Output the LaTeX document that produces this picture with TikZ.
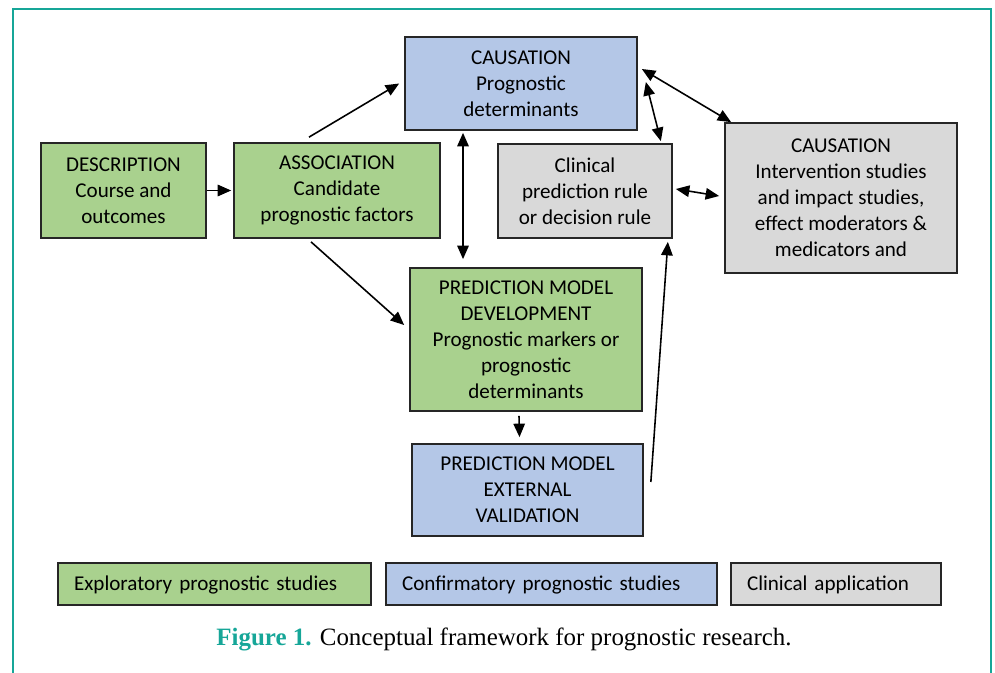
\documentclass[tikz,border=0pt]{standalone}
\usepackage{fontspec}
\setmainfont{Carlito}
\newfontfamily\capfont{Liberation Serif}
\usepackage{tikz}
\usetikzlibrary{arrows.meta}
\definecolor{exgreen}{RGB}{169,209,142}
\definecolor{cfblue}{RGB}{180,199,231}
\definecolor{clgray}{RGB}{217,217,217}
\definecolor{frameteal}{RGB}{22,166,152}
\tikzset{>={Triangle[length=0.27cm,width=0.23cm]}}

\begin{document}
\begin{tikzpicture}[x=0.02cm,y=-0.02cm]
    \tikzset{
    box/.style={draw=black!85, line width=1pt, align=center, inner sep=2pt, font=\fontsize{12}{14.8}\selectfont},
    explor/.style={box, fill=exgreen},
    confirm/.style={box, fill=cfblue},
    applic/.style={box, fill=clgray},
    key/.style={align=left, text width=#1, inner xsep=0.32cm, minimum height=0.84cm, text depth=0.02cm},
    link/.style={line width=0.9pt},
    }

    % Page and frame.
    \useasboundingbox (0,0) rectangle (995,673);
    \draw [frameteal, line width=0.8pt] (13,673) -- (13,9) -- (991,9) -- (991,673);

    % Study boxes.
    \node [confirm, minimum width=4.64cm, minimum height=1.86cm] (caus)   at (521,83.5)  {CAUSATION\\Prognostic\\determinants};
    \node [explor,  minimum width=3.30cm, minimum height=1.90cm] (desc)   at (123.5,190.5) {DESCRIPTION\\Course and\\outcomes};
    \node [explor,  minimum width=4.12cm, minimum height=1.90cm] (assoc)  at (337,190.5) {ASSOCIATION\\Candidate\\prognostic factors};
    \node [applic,  minimum width=3.48cm, minimum height=1.88cm] (rule)   at (585,191)   {Clinical\\prediction rule\\or decision rule};
    \node [applic,  minimum width=4.64cm, minimum height=3.00cm] (interv) at (841,198)   {CAUSATION\\Intervention studies\\and impact studies,\\effect moderators \&\\medicators and};
    \node [explor,  minimum width=4.64cm, minimum height=2.86cm] (dev)    at (526,339.5) {PREDICTION MODEL\\DEVELOPMENT\\Prognostic markers or\\prognostic\\determinants};
    \node [confirm, minimum width=4.62cm, minimum height=1.84cm] (valid)  at (527.5,490) {PREDICTION MODEL\\EXTERNAL\\VALIDATION};

    % Legend.
    \node [explor,  key=5.62cm] (keyex) at (214.5,584) {Exploratory prognostic studies};
    \node [confirm, key=5.98cm] (keycf) at (551.5,584) {Confirmatory prognostic studies};
    \node [applic,  key=3.56cm] (keycl) at (836,584)   {Clinical application};

    % Caption.
    \node [font=\capfont\fontsize{14.2}{17}\selectfont] (caption) at (504,639)
      {\textcolor{frameteal}{\textbf{Figure 1.}} Conceptual framework for prognostic research.};

    % Connections.
    \draw [link, ->] (desc.east) -- ([xshift=-0.04cm]assoc.west);
    \draw [link, ->] ([xshift=-0.56cm,yshift=0.1cm]assoc.north) -- ([xshift=-0.1cm]caus.west);
    \draw [link, ->] ([xshift=-0.52cm,yshift=-0.06cm]assoc.south) -- ([xshift=-0.1cm,yshift=0.29cm]dev.west);
    \draw [link, <->] ([xshift=-1.16cm,yshift=-0.04cm]caus.south) -- ([xshift=-1.26cm,yshift=0.16cm]dev.north);
    \draw [link, <->] ([xshift=0.16cm,yshift=0.03cm]caus.east) -- ([xshift=-0.24cm,yshift=0.04cm]rule.north east);
    \draw [link, <->] ([xshift=0.08cm,yshift=0.29cm]caus.east) -- ([xshift=0.14cm]interv.north west);
    \draw [link, <->] ([xshift=0.06cm,yshift=0.04cm]rule.east) -- ([xshift=-0.1cm,yshift=0.04cm]interv.west);
    \draw [link, ->] ([xshift=-0.14cm,yshift=-0.08cm]dev.south) -- ([xshift=-0.16cm,yshift=0.12cm]valid.north);
    \draw [link, ->] ([xshift=0.14cm,yshift=0.16cm]valid.east) -- ([xshift=-0.1cm,yshift=-0.06cm]rule.south east);
\end{tikzpicture}
\end{document}
